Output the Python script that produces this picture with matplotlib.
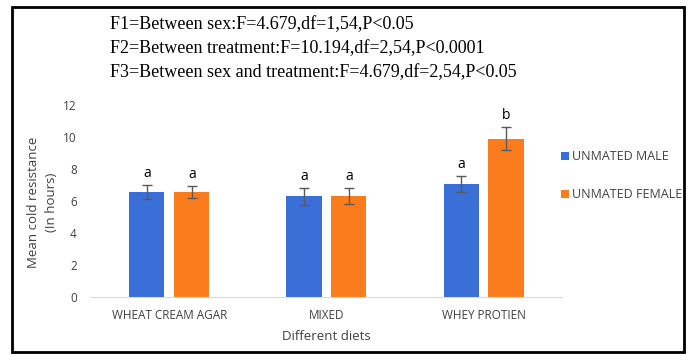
import matplotlib
matplotlib.use("Agg")
import matplotlib.pyplot as plt
import numpy as np

# ── Data ──────────────────────────────────────────────────────────────────────
diets        = ["WHEAT CREAM AGAR", "MIXED", "WHEY PROTIEN"]
male_mean    = [6.57, 6.29, 7.07]
male_err     = [0.43, 0.52, 0.52]
female_mean  = [6.57, 6.29, 9.90]
female_err   = [0.37, 0.50, 0.73]
male_letters   = ["a", "a", "a"]
female_letters = ["a", "a", "b"]
stats_lines = [
    "F1=Between sex:F=4.679,df=1,54,P<0.05",
    "F2=Between treatment:F=10.194,df=2,54,P<0.0001",
    "F3=Between sex and treatment:F=4.679,df=2,54,P<0.05",
]
# ─────────────────────────────────────────────────────────────────────────────

BLUE   = "#3a6fd8"
ORANGE = "#fb7c1c"
GREY   = "#404040"
SANS   = "Open Sans"

fig = plt.figure(figsize=(6.88, 3.54), dpi=100)
ax = fig.add_axes([0.132, 0.162, 0.685, 0.541])

x = np.arange(len(diets))
w, off = 0.223, 0.143
err_kw = dict(ecolor="#595959", elinewidth=1, capsize=3.5, capthick=1)
ax.bar(x - off, male_mean, w, yerr=male_err, color=BLUE, error_kw=err_kw,
       label="UNMATED MALE")
ax.bar(x + off, female_mean, w, yerr=female_err, color=ORANGE, error_kw=err_kw,
       label="UNMATED FEMALE")

# significance letters above the error bars
for xi, m, e, t in zip(x - off, male_mean, male_err, male_letters):
    ax.text(xi, m + e + 0.25, t, ha="center", va="bottom", fontsize=10, family=SANS)
for xi, m, e, t in zip(x + off, female_mean, female_err, female_letters):
    ax.text(xi, m + e + 0.25, t, ha="center", va="bottom", fontsize=10, family=SANS)

ax.set_xlim(-0.5, 2.5)
ax.set_ylim(0, 12)
ax.set_yticks(range(0, 13, 2))
ax.set_xticks(x)
ax.set_xticklabels(diets, family=SANS, fontsize=8.5)
for lab in ax.get_yticklabels():
    lab.set_family(SANS)
    lab.set_fontsize(8.5)
ax.tick_params(length=0, colors=GREY)
ax.tick_params(axis="y", pad=10)
ax.tick_params(axis="x", pad=9)
for s in ["top", "right", "left"]:
    ax.spines[s].set_visible(False)
ax.spines["bottom"].set_color("#d9d9d9")

ax.set_xlabel("Different diets", family=SANS, fontsize=9.5, color=GREY, labelpad=6)
fig.text(42.5 / 688, 1 - 202 / 354, "Mean cold resistance\n(In hours)", family=SANS,
         fontsize=9.5, color=GREY, rotation=90, ha="center", va="center",
         linespacing=1.45, multialignment="center")

ax.legend(loc="upper left", bbox_to_anchor=(0.998, 0.765), frameon=False,
          prop={"family": SANS, "size": 9}, handlelength=0.65, handleheight=0.65,
          handletextpad=0.25, labelspacing=2.0, labelcolor=GREY,
          borderpad=0, borderaxespad=0)

for i, line in enumerate(stats_lines):
    fig.text(0.16, 1 - (25 + 24 * i) / 354, line, family="Liberation Serif",
             fontsize=13, va="center", ha="left")

# black frame around the whole picture
frame = plt.Rectangle((12 / 688, 2 / 354), 672 / 688, 345 / 354, transform=fig.transFigure,
                      fill=False, edgecolor="black", linewidth=2)
fig.add_artist(frame)

fig.savefig("out.png", dpi=100)
